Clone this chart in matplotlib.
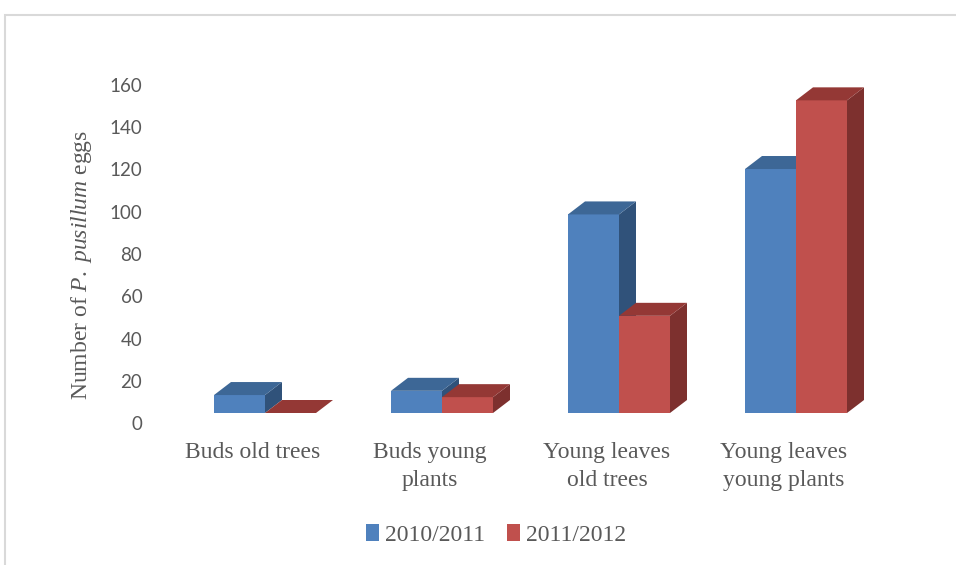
import matplotlib
matplotlib.use("Agg")
import matplotlib.pyplot as plt
from matplotlib.patches import Polygon, Rectangle, Patch
from matplotlib.transforms import ScaledTranslation
import numpy as np

categories = ["Buds old trees", "Buds young\nplants", "Young leaves\nold trees", "Young leaves\nyoung plants"]
series_names = ["2010/2011", "2011/2012"]
values_2010 = [8.5, 10.5, 94, 115.5]
values_2011 = [0, 7.5, 46, 148]
yticks = [0, 20, 40, 60, 80, 100, 120, 140, 160]

plt.rcParams['mathtext.fontset'] = 'custom'
plt.rcParams['mathtext.rm'] = 'Liberation Serif'
plt.rcParams['mathtext.it'] = 'Liberation Serif:italic'

W, H = 956, 565
fig = plt.figure(figsize=(W / 100, H / 100), dpi=100)

# axes geometry in pixels
px_per_cat = 177.0
x0_px = 265.0
y0_px = 413.0
px_per_unit = 338.0 / 160.0
xmin, xmax = -0.75, 3.6
ymin, ymax = 0, 160
left = x0_px + xmin * px_per_cat
right = x0_px + xmax * px_per_cat
bottom = y0_px
top = y0_px - ymax * px_per_unit
ax = fig.add_axes([left / W, 1 - bottom / H, (right - left) / W, (bottom - top) / H])
ax.set_xlim(xmin, xmax)
ax.set_ylim(ymin, ymax)
for s in ax.spines.values():
    s.set_visible(False)

bw = 51.0 / px_per_cat
ddx = 17.0 / px_per_cat
ddy = 13.0 / px_per_unit

colors = [
    {"front": "#4F81BD", "top": "#3D6796", "side": "#30527A"},
    {"front": "#C0504D", "top": "#943835", "side": "#7D302E"},
]

x = np.arange(len(categories))
series = [values_2010, values_2011]
for si, vals in enumerate(series):
    c = colors[si]
    for i, v in enumerate(vals):
        xl = x[i] - bw + si * bw
        xr = xl + bw
        # front
        ax.add_patch(Rectangle((xl, 0), bw, v, facecolor=c["front"], edgecolor="none", zorder=3 + si))
        # side
        ax.add_patch(Polygon([(xr, 0), (xr + ddx, ddy), (xr + ddx, v + ddy), (xr, v)],
                             closed=True, facecolor=c["side"], edgecolor="none", zorder=3 + si))
        # top
        ax.add_patch(Polygon([(xl, v), (xr, v), (xr + ddx, v + ddy), (xl + ddx, v + ddy)],
                             closed=True, facecolor=c["top"], edgecolor="none", zorder=3 + si))

# y ticks
ax.set_yticks(yticks)
ax.set_yticklabels([str(t) for t in yticks], fontfamily="Lato", fontsize=13.5, color="#595959")
ax.tick_params(axis="y", length=0, pad=-7.2)
for lab in ax.get_yticklabels():
    lab.set_transform(lab.get_transform() + ScaledTranslation(0, -10 / 100, fig.dpi_scale_trans))

# x ticks
label_shift = 12.0 / px_per_cat
ax.set_xticks(x - label_shift)
ax.set_xticklabels(categories, fontfamily="Liberation Serif", fontsize=17, color="#595959",
                   linespacing=1.45)
ax.tick_params(axis="x", length=0, pad=21)

# y label
fig.text(82 / W, 1 - 265 / H, r"Number of $\mathit{P.\ pusillum}$ eggs", rotation=90,
         ha="center", va="center", fontfamily="Liberation Serif", fontsize=17, color="#595959")

# legend
handles = [Patch(facecolor=colors[0]["front"], edgecolor="none"),
           Patch(facecolor=colors[1]["front"], edgecolor="none")]
fig.legend(handles, series_names, loc="center", bbox_to_anchor=(496 / W, 1 - 535 / H), ncol=2,
           frameon=False, handlelength=0.55, handleheight=0.75, handletextpad=0.25,
           columnspacing=0.9, prop={"family": "Liberation Serif", "size": 17},
           labelcolor="#595959")

# outer frame
fig.patches.append(Rectangle((5 / W, -0.1), 1.2, (1 - 15 / H) + 0.1, transform=fig.transFigure,
                             facecolor="none", edgecolor="#D9D9D9", lw=1.5, zorder=0))

fig.savefig("out.png", dpi=100)
